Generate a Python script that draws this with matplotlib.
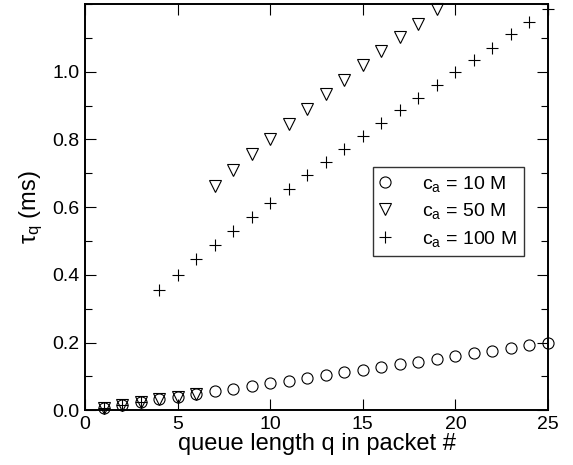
import matplotlib
matplotlib.use("Agg")
import matplotlib.pyplot as plt
from matplotlib.ticker import MultipleLocator

plt.rcParams['font.family'] = ['Liberation Sans', 'DejaVu Sans']
plt.rcParams['mathtext.fontset'] = 'custom'
plt.rcParams['mathtext.rm'] = 'Liberation Sans'
plt.rcParams['mathtext.it'] = 'Liberation Sans'

# data
q10 = list(range(1, 26))
tau10 = [0.008, 0.016, 0.024, 0.032, 0.040, 0.048, 0.056, 0.064, 0.072, 0.080,
         0.088, 0.096, 0.104, 0.112, 0.120, 0.128, 0.136, 0.144, 0.152, 0.160,
         0.168, 0.176, 0.184, 0.192, 0.198]

q50 = list(range(1, 20))
tau50 = [0.008, 0.016, 0.024, 0.032, 0.040, 0.048,
         0.662, 0.709, 0.756, 0.802, 0.847, 0.891, 0.933, 0.976, 1.019,
         1.061, 1.102, 1.142, 1.184]

q100 = list(range(1, 26))
tau100 = [0.008, 0.016, 0.024,
          0.355, 0.401, 0.446, 0.488, 0.531, 0.571, 0.612, 0.655, 0.694,
          0.732, 0.771, 0.810, 0.848, 0.886, 0.923, 0.960, 0.999, 1.036,
          1.071, 1.110, 1.147, 1.186]

labels = [r'c$_\mathrm{a}$ = 10 M', r'c$_\mathrm{a}$ = 50 M', r'c$_\mathrm{a}$ = 100 M']

fig = plt.figure(figsize=(5.73, 4.65), dpi=100)
ax = fig.add_axes([85/573, 1 - 410.3/465, (548-85)/573, (410.3-4)/465])

ax.plot(q10, tau10, linestyle='none', marker='o', markersize=8, markerfacecolor='none',
        markeredgecolor='black', markeredgewidth=0.8, label=labels[0], clip_on=False)
ax.plot(q50, tau50, linestyle='none', marker='v', markersize=8.5, markerfacecolor='none',
        markeredgecolor='black', markeredgewidth=0.8, label=labels[1], clip_on=False)
ax.plot(q100, tau100, linestyle='none', marker='+', markersize=9, markeredgecolor='black',
        markeredgewidth=0.8, label=labels[2], clip_on=False)

ax.set_xlim(0, 25)
ax.set_ylim(0, 1.2)
ax.xaxis.set_major_locator(MultipleLocator(5))
ax.yaxis.set_minor_locator(MultipleLocator(0.1))
ax.set_yticks([0.0, 0.2, 0.4, 0.6, 0.8, 1.0])
ax.set_yticklabels(['0.0', '0.2', '0.4', '0.6', '0.8', '1.0'])
ax.tick_params(which='both', direction='in', top=True, right=True, width=0.8,
               labelsize=14, pad=4)
ax.tick_params(which='major', length=8)
ax.tick_params(which='minor', length=5)
for s in ax.spines.values():
    s.set_linewidth(1.4)

ax.set_xlabel('queue length q in packet #', fontsize=17, labelpad=0)
ax.set_ylabel(r'$\tau_\mathrm{q}$ (ms)', fontsize=17, labelpad=5)

leg = ax.legend(loc='upper left', bbox_to_anchor=((372.7-85)/463, (410.3-166.7)/406.3),
                frameon=True, fancybox=False, edgecolor='black', fontsize=14,
                handlelength=0.6, handletextpad=1.6, borderpad=0.35, labelspacing=0.4,
                borderaxespad=0)
leg.get_frame().set_linewidth(1.0)

fig.savefig('out.png', dpi=100)
